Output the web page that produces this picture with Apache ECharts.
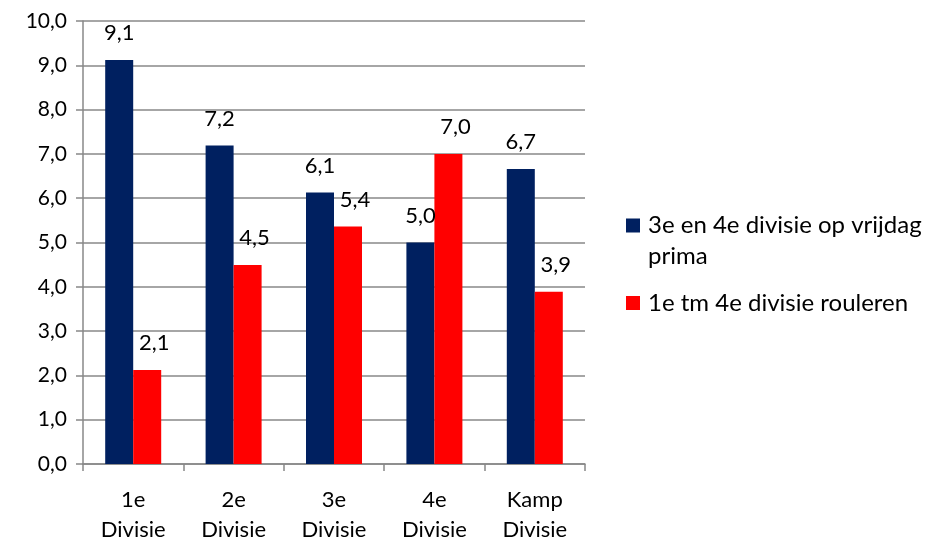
<!DOCTYPE html>
<html>
<head>
<meta charset="utf-8">
<script src="https://cdn.jsdelivr.net/npm/echarts@6/dist/echarts.min.js"></script>
<style>
  html, body { margin: 0; padding: 0; background: #fff; }
  #chart { width: 928px; height: 545px; }
</style>
</head>
<body>
<div id="chart"></div>
<script>
// categorieën en waarden
const categories = ['1e\nDivisie', '2e\nDivisie', '3e\nDivisie', '4e\nDivisie', 'Kamp\nDivisie'];
const seriesNames = ['3e en 4e divisie op vrijdag prima', '1e tm 4e divisie rouleren'];
const vrijdagValues = [9.12, 7.19, 6.13, 5.0, 6.66];
const rouleerValues = [2.12, 4.49, 5.36, 7.0, 3.89];

const FONT = 'Lato';
const fmt = v => v.toFixed(1).replace('.', ',');

// legenda-icoon: vierkantje bij de eerste tekstregel (kader 14x62)
const iconTop = 'path://M0,8.5H14V22.5H0Z M0,0H0.01V0.01H0Z M0,61.99H0.01V62H0Z';
const iconMid = 'path://M0,24H14V38H0Z M0,0H0.01V0.01H0Z M0,61.99H0.01V62H0Z';

const chart = echarts.init(document.getElementById('chart'));

const option = {
  animation: false,
  textStyle: { fontFamily: FONT, color: '#000' },
  grid: { left: 83, right: 343, top: 21, bottom: 77 },
  legend: {
    orient: 'vertical',
    left: 621,
    top: 205,
    itemWidth: 14,
    itemHeight: 62,
    itemGap: 0,
    data: [
      { name: seriesNames[0], icon: iconTop },
      { name: seriesNames[1], icon: iconMid }
    ],
    formatter: function (name) {
      // lange naam over twee regels
      return name === seriesNames[0] ? '3e en 4e divisie op vrijdag\nprima' : name;
    },
    textStyle: { fontFamily: FONT, fontSize: 24, color: '#000', lineHeight: 31, padding: [0, 0, 0, 3] }
  },
  xAxis: {
    type: 'category',
    data: categories,
    axisLine: { lineStyle: { color: '#888', width: 1.5 } },
    axisTick: { show: true, length: 7, lineStyle: { color: '#888', width: 1.5 } },
    axisLabel: { fontFamily: FONT, fontSize: 22, color: '#000', lineHeight: 30, margin: 21 }
  },
  yAxis: {
    type: 'value',
    min: 0,
    max: 10,
    interval: 1,
    axisLine: { show: true, lineStyle: { color: '#888', width: 1.5 } },
    axisTick: { show: true, length: 7, lineStyle: { color: '#888', width: 1.5 } },
    splitLine: { lineStyle: { color: '#888', width: 1.5 } },
    axisLabel: { fontFamily: FONT, fontSize: 21, color: '#000', margin: 16, formatter: fmt }
  },
  series: [
    {
      name: seriesNames[0],
      type: 'bar',
      barWidth: 28,
      barGap: '0%',
      data: vrijdagValues,
      itemStyle: { color: '#002060' },
      label: {
        show: true, position: 'top', distance: 16,
        fontFamily: FONT, fontSize: 22, color: '#000',
        formatter: p => fmt(p.value)
      }
    },
    {
      name: seriesNames[1],
      type: 'bar',
      barWidth: 28,
      data: rouleerValues,
      itemStyle: { color: '#FF0000' },
      label: {
        show: true, position: 'top', distance: 16, offset: [7, 0],
        fontFamily: FONT, fontSize: 22, color: '#000',
        formatter: p => fmt(p.value)
      }
    }
  ]
};

chart.setOption(option);
</script>
</body>
</html>
